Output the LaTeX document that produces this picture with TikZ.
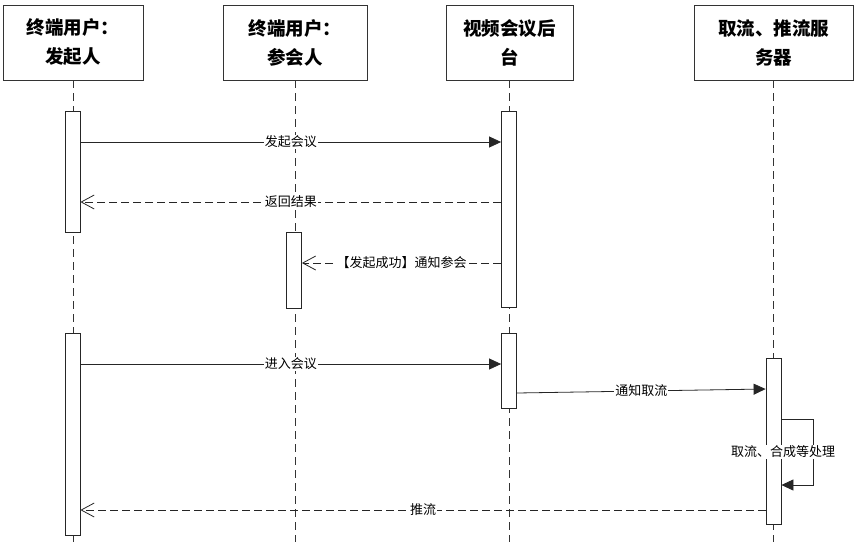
\documentclass[tikz,border=0pt]{standalone}
\usepackage{fontspec}
\setmainfont{Noto Sans CJK SC}
\usetikzlibrary{arrows.meta}
\tikzset{
  actor/.style={draw=black!80, line width=0.8pt, fill=white, minimum height=75pt, align=center, inner sep=2pt, font=\fontsize{18.5}{29}\selectfont\bfseries},
  bar/.style={draw=black!85, line width=0.8pt, fill=white, minimum width=15pt, inner sep=0pt},
  life/.style={draw=black!80, line width=0.8pt, dash pattern=on 8pt off 5pt},
  msg/.style={draw=black!85, line width=0.8pt, -{Triangle[length=12pt,width=11pt]}},
  ret/.style={draw=black!85, line width=0.8pt, dash pattern=on 8pt off 4pt, -{Straight Barb[length=13pt,width=14pt]}},
  lbl/.style={fill=white, inner sep=1pt, font=\fontsize{13}{13}\selectfont}
}
\begin{document}
\begin{tikzpicture}[x=1pt, y=-1pt]
        \useasboundingbox (0,0) rectangle (855,542);
        % Participants
        \node (hdA) [actor, minimum width=140pt] at (73,42.5) {终端用户：\\发起人};
        \node (hdB) [actor, minimum width=144pt] at (295,42.5) {终端用户：\\参会人};
        \node (hdC) [actor, minimum width=127pt] at (509.5,42.5) {视频会议后\\台};
        \node (hdD) [actor, minimum width=159pt] at (773.5,42.5) {取流、推流服\\务器};

        % Lifelines
        \draw[life] (hdA.south) -- (hdA.south |- 0,542);
        \draw[life] (hdB.south) -- (hdB.south |- 0,542);
        \draw[life] (hdC.south) -- (hdC.south |- 0,542);
        \draw[life] (hdD.south) -- (hdD.south |- 0,542);

        % Activations
        \node (barA1) [bar, minimum height=121pt] at (72.5,171.5) {};
        \node (barA2) [bar, minimum height=202pt] at (72.5,434) {};
        \node (barB1) [bar, minimum height=76pt] at (294,270.5) {};
        \node (barC1) [bar, minimum height=196pt] at (509,209) {};
        \node (barC2) [bar, minimum height=75pt] at (509,371) {};
        \node (barD1) [bar, minimum height=166pt] at (773.5,441.5) {};

        % Messages
        \draw[msg] (barA1.east |- 0,142) -- node[lbl] {发起会议} (barC1.west |- 0,142);
        \draw[ret] (barC1.west |- 0,202) -- node[lbl] {返回结果} (barA1.east |- 0,202);
        \draw[ret] (barC1.west |- 0,263) -- node[lbl] {【发起成功】通知参会} (barB1.east |- 0,263);
        \draw[msg] (barA2.east |- 0,364) -- node[lbl] {进入会议} (barC2.west |- 0,364);
        \draw[msg] (barC2.east |- 0,393) -- node[lbl] {通知取流} (barD1.west |- 0,389);
        \draw[msg] (barD1.east |- 0,419) -- (813,419) -- node[lbl, pos=0.5, xshift=-30pt] {取流、合成等处理} (813,485) -- (barD1.east |- 0,485);
        \draw[ret] (barD1.west |- 0,510) -- node[lbl, pos=0.5] {推流} (barA2.east |- 0,510);
\end{tikzpicture}
\end{document}
